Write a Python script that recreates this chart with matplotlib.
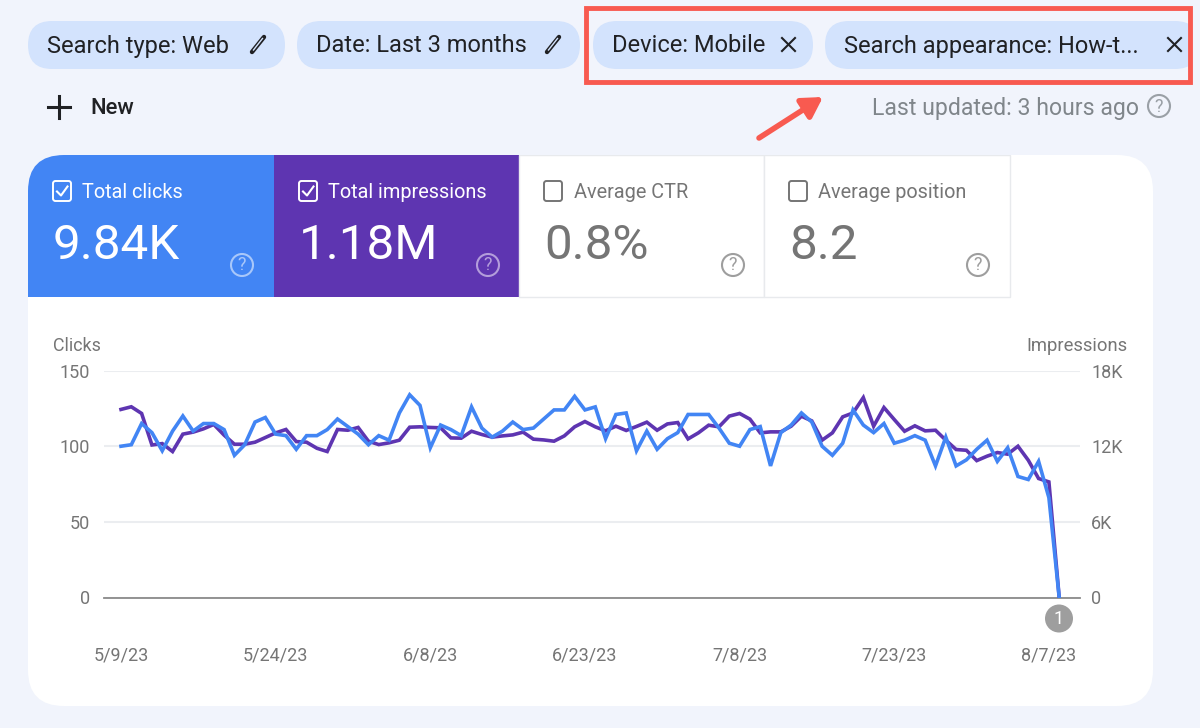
import matplotlib
matplotlib.use("Agg")
import matplotlib.pyplot as plt
from matplotlib.patches import FancyBboxPatch, Rectangle, Circle

plt.rcParams['font.family'] = ['Roboto', 'DejaVu Sans']

clicks = [100, 101, 115, 109, 97, 110, 120, 110, 115, 115, 111, 94, 101, 116, 119, 108, 107, 98, 107, 107,
          111, 118, 113, 108, 101, 107, 104, 122, 134, 127, 99, 114, 111, 107, 126, 112, 106, 110, 116, 111,
          112, 118, 124, 124, 133, 124, 126, 105, 121, 122, 97, 110, 98, 105, 109, 121, 121, 121, 112, 102,
          100, 111, 113, 87, 109, 114, 122, 116, 100, 94, 102, 124, 114, 109, 115, 102, 104, 107, 104, 87,
          106, 87, 91, 98, 104, 90, 99, 80, 78, 90, 66, 0]
impressions = [14920, 15130, 14600, 12100, 12210, 11580, 12960, 13120, 13380, 13730, 12880, 12160, 12160, 12320,
               12690, 13060, 13330, 12370, 12320, 11840, 11580, 13330, 13270, 13490, 12400, 12130, 12270, 12480,
               13510, 13540, 13490, 13460, 12660, 12640, 13190, 12930, 12720, 12820, 12900, 13120, 12560, 12500,
               12400, 12820, 13540, 13960, 13540, 13220, 13590, 13250, 13570, 13910, 13270, 13770, 13880, 12580,
               13060, 13670, 13540, 14390, 14600, 14150, 13060, 13140, 13140, 13590, 14380, 14010, 12480, 13060,
               14330, 14640, 15860, 13590, 15070, 14120, 13190, 13620, 13220, 13270, 12480, 11740, 11680, 10860,
               11210, 11500, 11370, 12000, 10890, 9440, 9170, 0]
date_ticks = [0, 15, 30, 45, 60, 75, 90]
date_labels = ['5/9/23', '5/24/23', '6/8/23', '6/23/23', '7/8/23', '7/23/23', '8/7/23']
clicks_ticks = [0, 50, 100, 150]
imp_ticks = [0, 6000, 12000, 18000]
imp_labels = ['0', '6K', '12K', '18K']

chips = [('Search type: Web', 28, 285, 'edit'), ('Date: Last 3 months', 297, 580, 'edit'),
         ('Device: Mobile', 593, 813, 'close'), ('Search appearance: How-t...', 825, 1199, 'close')]
tiles = [('Total clicks', '9.84K', 28, 274), ('Total impressions', '1.18M', 274, 519),
         ('Average CTR', '0.8%', 519, 764), ('Average position', '8.2', 764, 1010)]

BG = '#f1f4fc'
BLUE = '#4285f4'
PURPLE = '#5e35b1'
GREY = '#757575'
RED = '#f85a50'
DARK = '#202124'

fig = plt.figure(figsize=(12, 7.28), dpi=100, facecolor=BG)
ui = fig.add_axes([0, 0, 1, 1])
ui.set_xlim(0, 1200)
ui.set_ylim(728, 0)
ui.axis('off')


def help_icon(x, y, color, r=11):
    ui.add_patch(Circle((x, y), r, fill=False, ec=color, lw=1.5, zorder=5))
    ui.text(x, y + 0.5, '?', color=color, fontsize=13, ha='center', va='center', zorder=5)


def checkbox(x, y, color, checked):
    ui.add_patch(FancyBboxPatch((x, y), 18, 20, boxstyle='round,pad=0,rounding_size=2.5',
                                fill=False, ec=color, lw=1.4, zorder=5))
    if checked:
        ui.plot([x + 4, x + 8, x + 14.5], [y + 10.5, y + 14.5, y + 5.5], color=color, lw=1.5, zorder=5)


# filter chips
for label, x0, x1, icon in chips:
    chip = FancyBboxPatch((x0, 21), x1 - x0, 48, boxstyle='round,pad=0,rounding_size=24',
                          fc='#d3e3fd', ec='none')
    ui.add_patch(chip)
    ui.text(x0 + 19, 46, label, fontsize=17, color=DARK, ha='left', va='center')
    if icon == 'edit':
        ui.plot([x1 - 33, x1 - 21], [52, 37], color=DARK, lw=3.2, solid_capstyle='round')
        ui.plot([x1 - 31.5, x1 - 22.5], [50, 38.5], color='#d3e3fd', lw=1)
    else:
        ui.plot([x1 - 31, x1 - 18], [38, 51], color=DARK, lw=1.5)
        ui.plot([x1 - 31, x1 - 18], [51, 38], color=DARK, lw=1.5)

# highlight box and arrow, the box covers whatever runs past it
ui.add_patch(Rectangle((1188, 0), 12, 90, fc=BG, ec='none', zorder=5))
ui.add_patch(Rectangle((586, 8), 604, 74, fill=False, ec=RED, lw=3.5, zorder=6))
ui.annotate('', xy=(823, 97), xytext=(759, 138), zorder=6,
            arrowprops=dict(arrowstyle='-|>,head_length=1.2,head_width=0.7', color=RED, lw=4,
                            shrinkA=0, shrinkB=0, capstyle='round'))

# new button and update note
ui.plot([48, 70], [107, 107], color=DARK, lw=2.2)
ui.plot([59, 59], [96, 118], color=DARK, lw=2.2)
ui.text(90, 108, 'New', fontsize=15.8, color=DARK, ha='left', va='center', fontweight='medium')
ui.text(1139, 108, 'Last updated: 3 hours ago', fontsize=16.6, color='#80868b', ha='right', va='center')
help_icon(1159, 106, '#9aa0a6')

# card and metric tiles
card = FancyBboxPatch((28, 155), 1125, 551, boxstyle='round,pad=0,rounding_size=36', fc='white', ec='none')
ui.add_patch(card)
for n, (name, value, x0, x1) in enumerate(tiles):
    active = n < 2
    face = [BLUE, PURPLE, 'white', 'white'][n]
    txt = 'white' if active else GREY
    tile = Rectangle((x0, 155), x1 - x0, 142, fc=face, ec='none' if active else '#e8eaed',
                     lw=1, zorder=2)
    ui.add_patch(tile)
    tile.set_clip_path(card)
    checkbox(x0 + 25, 181, txt, active)
    ui.text(x0 + 54.5, 192, name, fontsize=14.3, color=txt, ha='left', va='center', zorder=5)
    ui.text(x0 + 25, 246, value, fontsize=35.6, color=txt, ha='left', va='center', zorder=5)
    help_icon(x0 + 214, 265, '#a8c7fa' if n == 0 else '#b39ddb' if n == 1 else '#9e9e9e')

# chart, impressions sit under clicks on their own axis
ax2 = fig.add_axes([104 / 1200, 1 - 597.5 / 728, (1080 - 104) / 1200, (597.5 - 370.6) / 728], zorder=2)
ax2.patch.set_alpha(0)
ax2.set_xlim((104 - 121) / 10.31, (1080 - 121) / 10.31)
ax2.set_ylim(0, 18000)
ax2.set_yticks(imp_ticks)
ax2.set_yticklabels(imp_labels)
ax2.set_xticks(date_ticks)
ax2.set_xticklabels(date_labels)
ax2.yaxis.tick_right()
ax2.grid(axis='y', color='#ebedf0', lw=1.5)
ax2.set_axisbelow(True)
for s in ax2.spines.values():
    s.set_visible(False)
ax2.spines['bottom'].set_visible(True)
ax2.spines['bottom'].set_color('#8a8a8a')
ax2.spines['bottom'].set_linewidth(1.3)
ax2.tick_params(length=0, labelsize=13, labelcolor=GREY)
ax2.tick_params(axis='x', pad=35)
ax2.tick_params(axis='y', pad=8)
ax2.plot(range(len(impressions)), impressions, color=PURPLE, lw=2.6, solid_joinstyle='miter', zorder=3)

ax = fig.add_axes(ax2.get_position(), zorder=3, sharex=ax2)
ax.patch.set_alpha(0)
ax.set_ylim(0, 150)
ax.set_yticks(clicks_ticks)
ax.yaxis.tick_left()
ax.tick_params(axis='x', bottom=False, labelbottom=False)
ax.tick_params(axis='y', length=0, labelsize=13, labelcolor=GREY, pad=10)
for s in ax.spines.values():
    s.set_visible(False)
ax.plot(range(len(clicks)), clicks, color=BLUE, lw=2.6, solid_joinstyle='miter', zorder=4)

ui.text(53, 346, 'Clicks', fontsize=12.9, color=GREY, ha='left', va='center')
ui.text(1128, 346, 'Impressions', fontsize=13.2, color=GREY, ha='right', va='center')

# annotation marker under the last point
ui.add_patch(Circle((1059, 618.5), 14, fc='#9e9e9e', ec='none', zorder=5))
ui.text(1059, 618.5, '1', color='white', fontsize=13, ha='center', va='center', zorder=6)

fig.savefig('out.png', dpi=100, facecolor=BG)
